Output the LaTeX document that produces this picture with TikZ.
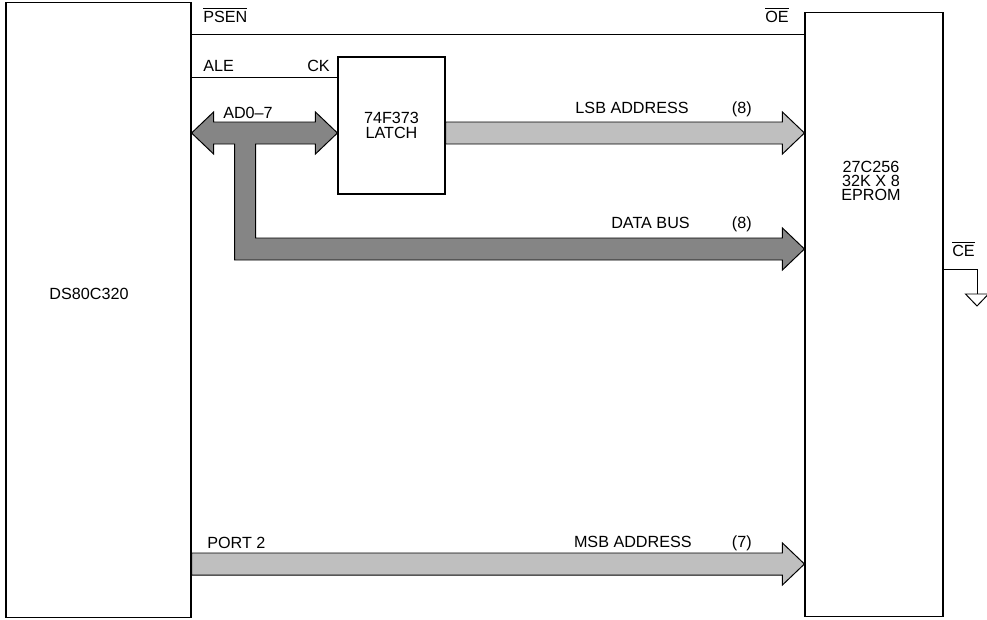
\documentclass[tikz,border=0pt]{standalone}
\usepackage{fontspec}
\setmainfont{Liberation Sans}
\usepackage{xcolor}
\usepackage{tikz}
\usetikzlibrary{calc}

\definecolor{buslight}{gray}{0.75}
\definecolor{busdark}{gray}{0.52}

% fat bus arrow: #1 style, #2 start, #3 tip
\newcommand{\busarrow}[3]{%
  \draw[#1] ($(#2)+(0,-11)$) -- ($(#3)+(-22,-11)$) -- ($(#3)+(-22,-21)$) -- (#3)
    -- ($(#3)+(-22,21)$) -- ($(#3)+(-22,11)$) -- ($(#2)+(0,11)$) -- cycle;}

\begin{document}
\begin{tikzpicture}[
    x=0.025cm, y=-0.025cm,
    chip/.style={rectangle, draw=black, line width=0.8pt, fill=white, align=center, inner sep=0pt},
    lbl/.style={inner sep=0pt, font=\fontsize{11.5}{10}\selectfont},
    wire/.style={line width=0.7pt},
    buslt/.style={draw=black, line width=0.7pt, fill=buslight},
    busdk/.style={draw=black, line width=0.7pt, fill=busdark}
]
\useasboundingbox (0,0) rectangle (987,619);

\node[chip, minimum width=4.625cm, minimum height=15.35cm] (cpu) at (98.5,310) {};
\node[chip, minimum width=3.45cm, minimum height=15.075cm] (rom) at (874,314.5) {};
\node[chip, minimum width=2.675cm, minimum height=3.425cm, font=\fontsize{11.5}{10.5}\selectfont] (latch) at (391.5,125.5) {74F373\\LATCH};

\node[lbl] (cpuname) at (89,294) {DS80C320};
\node[lbl, align=center] (romname) at (871,181) {27C256\\32K X 8\\EPROM};

% control lines
\coordinate (psen) at (cpu.east |- 0,34);
\coordinate (ale) at (cpu.east |- 0,77);
\coordinate (ce) at (rom.east |- 0,269);
\coordinate (gnd) at (977,294);
\draw[wire] (psen) -- (rom.west |- psen);
\draw[wire] (ale) -- (latch.west |- ale);
\draw[wire] (ce) -| (gnd);
\draw[wire] (gnd) ++(-11.5,0) -- ++(23,0) -- ++(-11.5,12) -- cycle;

% buses
\coordinate (adL) at (cpu.east |- 0,133);
\coordinate (adR) at (latch.west |- 0,133);
\coordinate (dbR) at (rom.west |- 0,249);
\coordinate (lsbA) at (latch.east |- 0,133);
\coordinate (lsbB) at (rom.west |- 0,133);
\coordinate (msbA) at (cpu.east |- 0,564);
\coordinate (msbB) at (rom.west |- 0,564);

\draw[busdk] (adL) -- ($(adL)+(22,-21)$) -- ($(adL)+(22,-11)$) -- ($(adR)+(-22,-11)$)
  -- ($(adR)+(-22,-21)$) -- (adR) -- ($(adR)+(-22,21)$) -- ($(adR)+(-22,11)$)
  -- ($(adL)+(64,11)$) |- ($(dbR)+(-22,-11)$) -- ($(dbR)+(-22,-21)$) -- (dbR)
  -- ($(dbR)+(-22,21)$) -- ($(dbR)+(-22,11)$) -| ($(adL)+(43,11)$)
  -- ($(adL)+(22,11)$) -- ($(adL)+(22,21)$) -- cycle;
\busarrow{buslt}{lsbA}{lsbB}
\busarrow{buslt}{msbA}{msbB}

% labels
\node[lbl, anchor=base west] (psenlbl) at (203,22) {$\overline{\mbox{PSEN}}$};
\node[lbl, anchor=base east] (oelbl) at (789,22) {$\overline{\mbox{OE}}$};
\node[lbl, anchor=base west] (alelbl) at (203,71) {ALE};
\node[lbl, anchor=base east] (cklbl) at (330,71) {CK};
\node[lbl, anchor=base west] (adlbl) at (223,118) {AD0–7};
\node[lbl, anchor=base east] (lsblbl) at (689,113) {LSB ADDRESS};
\node[lbl, anchor=base east] (lsbn) at (752,113) {(8)};
\node[lbl, anchor=base east] (dblbl) at (690,228) {DATA BUS};
\node[lbl, anchor=base east] (dbn) at (752,228) {(8)};
\node[lbl, anchor=base west] (p2lbl) at (207,548) {PORT 2};
\node[lbl, anchor=base east] (msblbl) at (692,547) {MSB ADDRESS};
\node[lbl, anchor=base east] (msbn) at (752,547) {(7)};
\node[lbl, anchor=base west] (celbl) at (952,256) {$\overline{\mbox{CE}}$};
\end{tikzpicture}
\end{document}
